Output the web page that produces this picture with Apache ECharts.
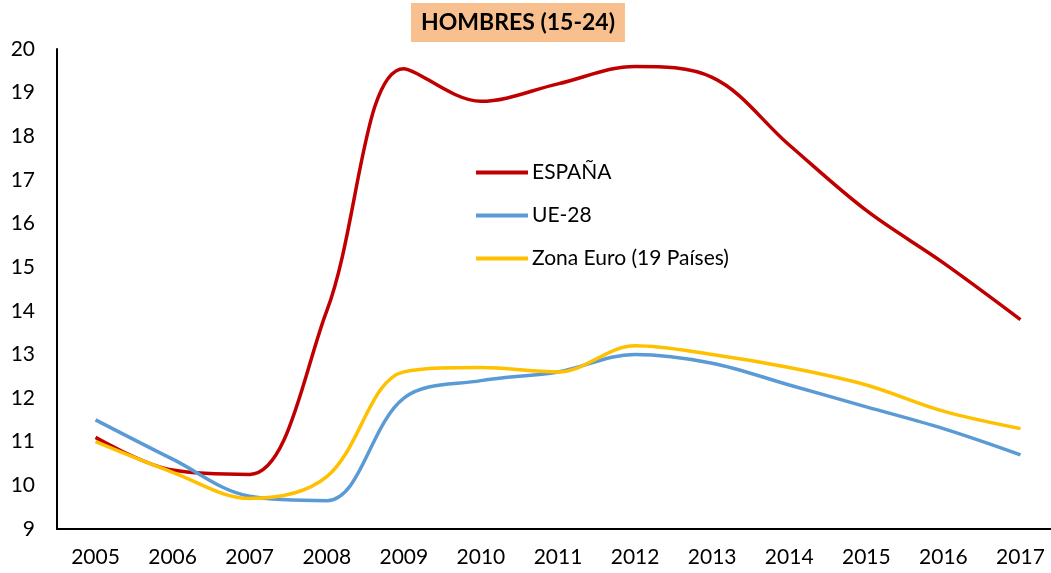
<!DOCTYPE html>
<html>
<head>
<meta charset="utf-8">
<script src="https://cdn.jsdelivr.net/npm/echarts@6/dist/echarts.min.js"></script>
<style>
  html, body { margin: 0; padding: 0; background: #fff; }
  #chart { width: 1051px; height: 573px; }
</style>
</head>
<body>
<div id="chart"></div>
<script>
var years = ['2005', '2006', '2007', '2008', '2009', '2010', '2011', '2012', '2013', '2014', '2015', '2016', '2017'];
var espana = [11.1, 10.35, 10.25, 14.0, 19.55, 18.8, 19.2, 19.6, 19.35, 17.8, 16.3, 15.1, 13.8];
var ue28 = [11.5, 10.6, 9.75, 9.65, 12.0, 12.4, 12.6, 13.0, 12.8, 12.3, 11.8, 11.3, 10.7];
var zonaEuro = [11.0, 10.3, 9.7, 10.2, 12.6, 12.7, 12.6, 13.2, 13.0, 12.7, 12.3, 11.7, 11.3];

var font = 'Lato, "Open Sans", sans-serif';

var chart = echarts.init(document.getElementById('chart'));

function line(name, data, color) {
  return {
    name: name,
    type: 'line',
    data: data,
    smooth: 0.35,
    symbol: 'none',
    lineStyle: { color: color, width: 3.5 },
    itemStyle: { color: color }
  };
}

chart.setOption({
  animation: false,
  title: {
    text: 'HOMBRES (15-24)',
    left: 411,
    top: 3,
    backgroundColor: '#F8C08F',
    padding: [8, 10, 8, 10],
    textStyle: { fontFamily: font, fontWeight: 'bold', fontSize: 23, color: '#000' }
  },
  legend: {
    orient: 'vertical',
    left: 471,
    top: 157,
    itemWidth: 52,
    itemHeight: 4,
    itemGap: 22,
    icon: 'rect',
    textStyle: { fontFamily: font, fontSize: 21, color: '#000', padding: [0, 0, 0, -1] },
    data: ['ESPAÑA', 'UE-28', 'Zona Euro (19 Países)']
  },
  grid: { left: 57, right: -8, top: 49, bottom: 44, outerBoundsMode: 'none' },
  xAxis: {
    type: 'category',
    data: years,
    boundaryGap: true,
    axisLine: { lineStyle: { color: '#000', width: 2 } },
    axisTick: { show: false },
    axisLabel: { fontFamily: font, fontSize: 21, color: '#000', margin: 18 }
  },
  yAxis: {
    type: 'value',
    min: 9,
    max: 20,
    interval: 1,
    splitLine: { show: false },
    axisLine: { show: true, lineStyle: { color: '#000', width: 2 } },
    axisTick: { show: false },
    axisLabel: { fontFamily: font, fontSize: 21, color: '#000', margin: 22 }
  },
  series: [
    line('ESPAÑA', espana, '#C00000'),
    line('UE-28', ue28, '#5B9BD5'),
    line('Zona Euro (19 Países)', zonaEuro, '#FFC000')
  ]
});
</script>
</body>
</html>
